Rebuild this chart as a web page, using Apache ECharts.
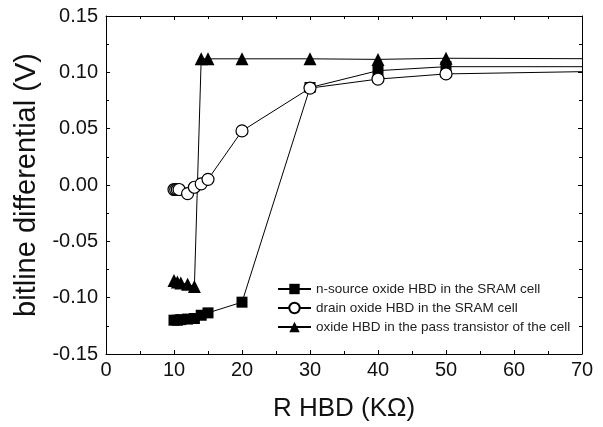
<!DOCTYPE html>
<html>
<head>
<meta charset="utf-8">
<script src="https://cdn.jsdelivr.net/npm/echarts@6/dist/echarts.min.js"></script>
<style>
  html, body { margin: 0; padding: 0; background: #fff; }
  #chart { width: 603px; height: 427px; }
</style>
</head>
<body>
<div id="chart"></div>
<script>
// valores
const seriesNames = [
  "n-source oxide HBD in the SRAM cell",
  "drain oxide HBD in the SRAM cell",
  "oxide HBD in the pass transistor of the cell",
];

const sourceX = [10, 10.5, 11, 12, 13, 14, 15, 20, 30, 40, 50];
const sourceY = [-0.12, -0.12, -0.1195, -0.119, -0.1185, -0.1156, -0.1135, -0.104, 0.0865, 0.1015, 0.105];

const drainX = [10, 10.25, 10.5, 10.75, 12, 13, 14, 15, 20, 30, 40, 50];
const drainY = [-0.004, -0.004, -0.004, -0.004, -0.0076, -0.002, 0.001, 0.005, 0.048, 0.086, 0.094, 0.0986];

const passX = [10, 10.5, 11, 12, 13, 14, 15, 20, 30, 40, 50];
const passY = [-0.0847, -0.086, -0.087, -0.088, -0.09, 0.112, 0.112, 0.112, 0.112, 0.1115, 0.1125];

// las lineas siguen hasta el borde derecho (x = 70) sin marcador
const edgeX = 70;
const edgeY = [0.105, 0.1006, 0.1121];

const xTicks = [0, 10, 20, 30, 40, 50, 60, 70];
const yTicks = [-0.15, -0.1, -0.05, 0, 0.05, 0.1, 0.15];

function armarDatos(xs, ys, yBorde) {
  const datos = xs.map((x, i) => [x, ys[i]]);
  datos.push({ value: [edgeX, yBorde], symbol: "none" });
  return datos;
}

const font = "Liberation Sans, Arial, sans-serif";

const chart = echarts.init(document.getElementById("chart"));

const ejeComun = {
  axisLine: { show: true, onZero: false, lineStyle: { color: "#000", width: 1 } },
  axisTick: { show: true, inside: true, length: 4, lineStyle: { color: "#000" } },
  minorTick: { show: true, splitNumber: 2, length: 3, lineStyle: { color: "#000" } },
  splitLine: { show: false },
  minorSplitLine: { show: false },
};

chart.setOption({
  backgroundColor: "#fff",
  animation: false,
  textStyle: { fontFamily: font },
  grid: { left: 106, right: 21, top: 16, bottom: 71 },
  legend: {
    data: seriesNames,
    orient: "vertical",
    left: 272,
    top: 277,
    itemGap: 5,
    itemWidth: 33,
    itemHeight: 13,
    textStyle: { fontSize: 13.5, color: "#222", fontFamily: font },
  },
  xAxis: [
    {
      ...ejeComun,
      type: "value",
      min: xTicks[0],
      max: xTicks[xTicks.length - 1],
      interval: 10,
      name: "R HBD (KΩ)",
      nameLocation: "middle",
      nameGap: 42,
      nameTextStyle: { fontSize: 26, color: "#111", fontFamily: font },
      axisLabel: { fontSize: 20, color: "#111", margin: 6 },
    },
    {
      ...ejeComun,
      type: "value",
      position: "top",
      min: xTicks[0],
      max: xTicks[xTicks.length - 1],
      interval: 10,
      axisLabel: { show: false },
    },
  ],
  yAxis: [
    {
      ...ejeComun,
      type: "value",
      min: yTicks[0],
      max: yTicks[yTicks.length - 1],
      interval: 0.05,
      name: "bitline differential (V)",
      nameLocation: "middle",
      nameGap: 65,
      nameTextStyle: { fontSize: 29, color: "#111", fontFamily: font },
      axisLabel: {
        fontSize: 20,
        color: "#111",
        margin: 8,
        formatter: (v) => v.toFixed(2),
      },
    },
    {
      ...ejeComun,
      type: "value",
      position: "right",
      min: yTicks[0],
      max: yTicks[yTicks.length - 1],
      interval: 0.05,
      axisLabel: { show: false },
    },
  ],
  series: [
    {
      name: seriesNames[0],
      type: "line",
      data: armarDatos(sourceX, sourceY, edgeY[0]),
      symbol: "rect",
      symbolSize: 11,
      z: 2,
      color: "#000",
      lineStyle: { color: "#000", width: 1 },
      itemStyle: { color: "#000" },
    },
    {
      name: seriesNames[1],
      type: "line",
      data: armarDatos(drainX, drainY, edgeY[1]),
      symbol: "circle",
      symbolSize: 12,
      z: 4,
      color: "#000",
      lineStyle: { color: "#000", width: 1 },
      itemStyle: { color: "#fff", borderColor: "#000", borderWidth: 1.2 },
    },
    {
      name: seriesNames[2],
      type: "line",
      data: armarDatos(passX, passY, edgeY[2]),
      symbol: "triangle",
      symbolSize: 13,
      z: 3,
      color: "#000",
      lineStyle: { color: "#000", width: 1 },
      itemStyle: { color: "#000" },
    },
  ],
});
</script>
</body>
</html>
